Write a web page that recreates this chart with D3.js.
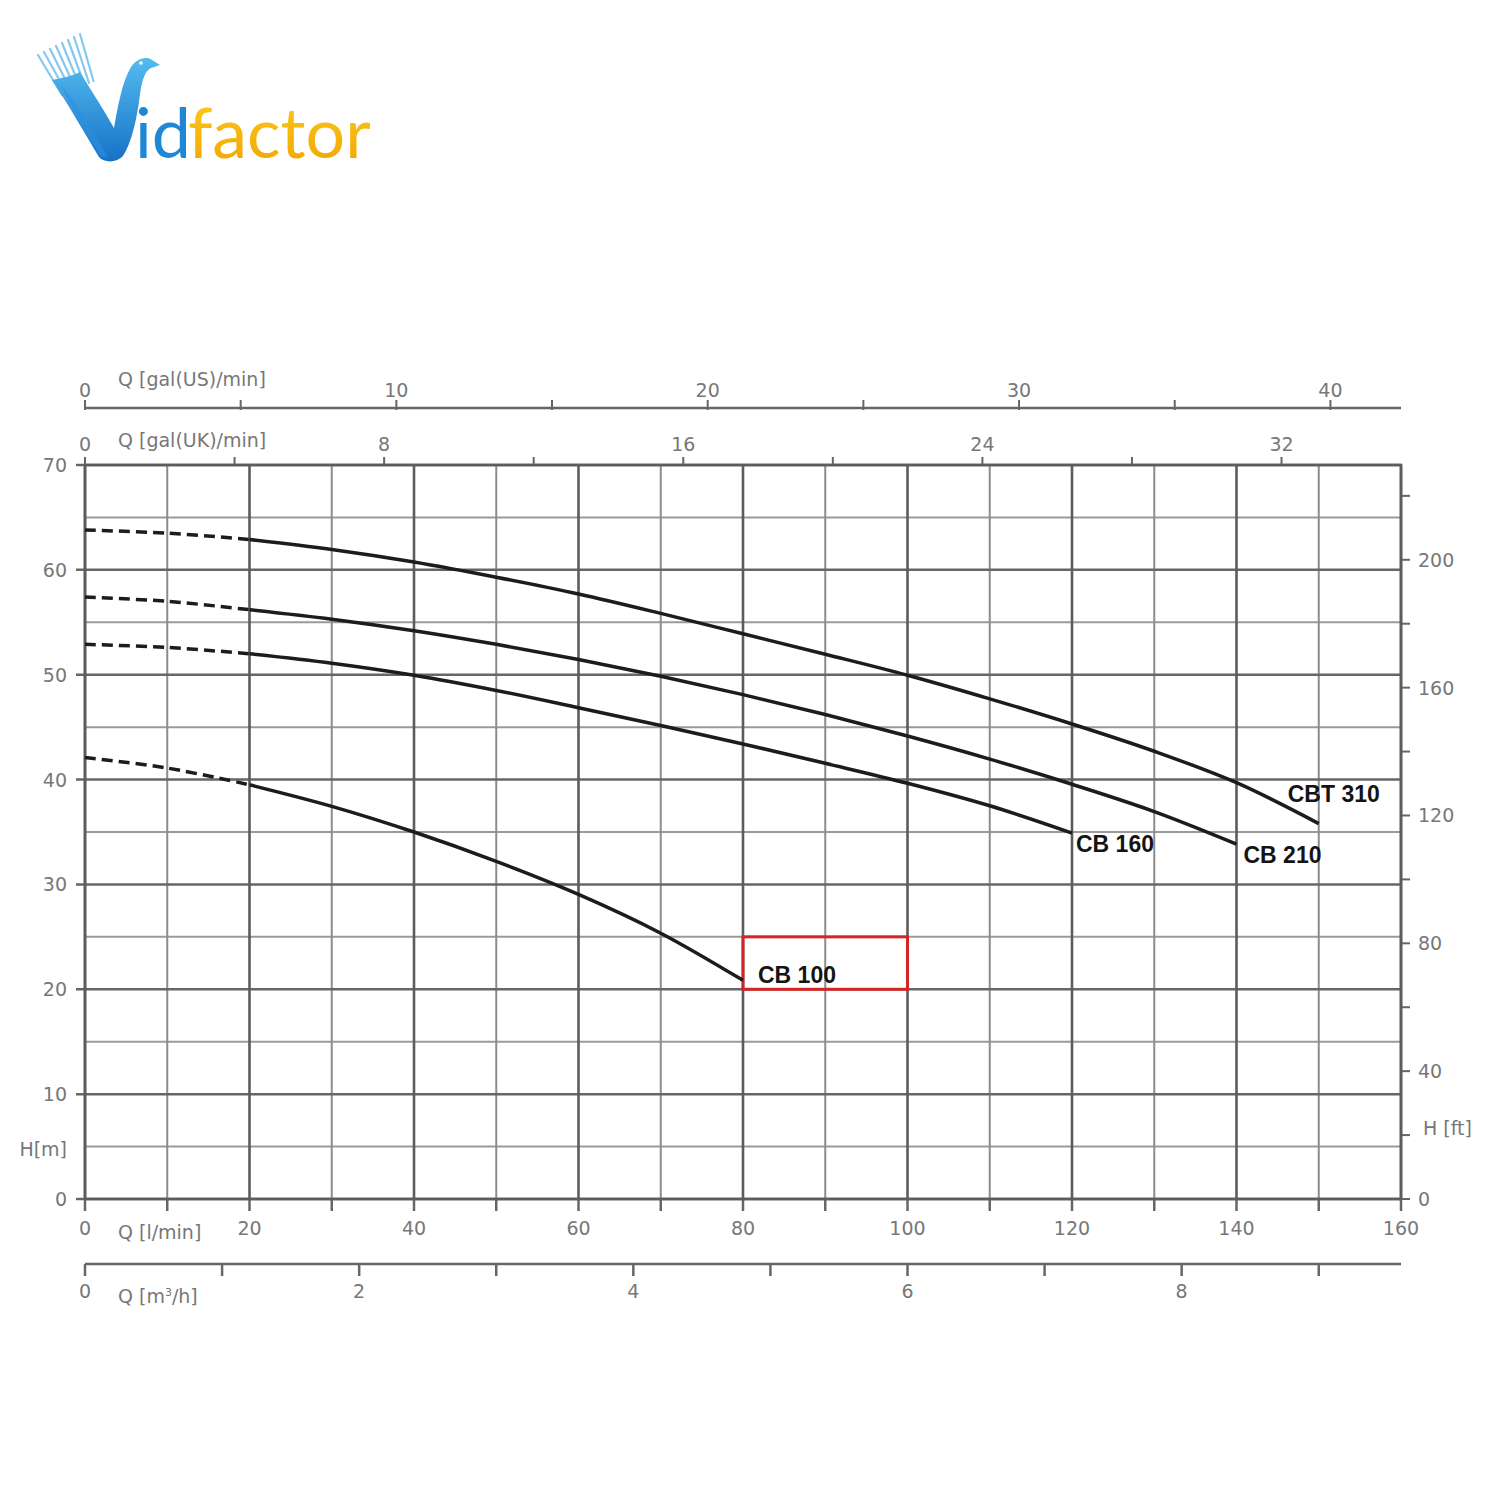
<!DOCTYPE html>
<html>
<head>
<meta charset="utf-8">
<script src="https://cdn.jsdelivr.net/npm/d3@7"></script>
<style>
  html, body { margin: 0; padding: 0; background: #fff; }
  svg { display: block; }
</style>
</head>
<body>
<svg id="chart" width="1500" height="1500"></svg>
<script>
// ---------------- DATA ----------------
const flowLmin = [0, 10, 20, 30, 40, 50, 60, 70, 80, 90, 100, 110, 120, 130, 140, 150];
const seriesNames = ["CBT 310", "CB 210", "CB 160", "CB 100"];
const headCBT310 = [63.8, 63.5, 62.9, 61.95, 60.75, 59.3, 57.7, 55.85, 53.9, 51.95, 49.95, 47.7, 45.3, 42.7, 39.7, 35.8];
const headCB210  = [57.4, 57.0, 56.2, 55.3, 54.2, 52.9, 51.45, 49.85, 48.1, 46.2, 44.15, 41.95, 39.55, 36.95, 33.85];
const headCB160  = [52.9, 52.6, 52.0, 51.1, 49.95, 48.5, 46.85, 45.15, 43.4, 41.55, 39.65, 37.5, 34.9];
const headCB100  = [42.1, 41.1, 39.5, 37.45, 35.0, 32.2, 29.05, 25.35, 20.85];
const dashedUntil = 20; // l/min: curves are dashed below this flow

const lminTicks = [0, 20, 40, 60, 80, 100, 120, 140, 160];
const lminMinorTicks = [10, 30, 50, 70, 90, 110, 130, 150];
const headTicks = [0, 10, 20, 30, 40, 50, 60, 70];
const headMinorTicks = [5, 15, 25, 35, 45, 55, 65];
const usGalTicks = [0, 5, 10, 15, 20, 25, 30, 35, 40];
const usGalLabels = [0, 10, 20, 30, 40];
const ukGalTicks = [0, 4, 8, 12, 16, 20, 24, 28, 32];
const ukGalLabels = [0, 8, 16, 24, 32];
const m3hTicks = [0, 1, 2, 3, 4, 5, 6, 7, 8, 9];
const m3hLabels = [0, 2, 4, 6, 8];
const ftTicks = [0, 20, 40, 60, 80, 100, 120, 140, 160, 180, 200, 220];
const ftLabels = [0, 40, 80, 120, 160, 200];

const highlightBox = { x0: 80, x1: 100, y0: 20, y1: 25 };

// ---------------- SETUP ----------------
const svg = d3.select("#chart");
const L = 85, R = 1401, T = 465, B = 1199;
const x = d3.scaleLinear().domain([0, 160]).range([L, R]);
const y = d3.scaleLinear().domain([0, 70]).range([B, T]);
const xUS = d3.scaleLinear().domain([0, 160 / 3.78541]).range([L, R]);
const xUK = d3.scaleLinear().domain([0, 160 / 4.54609]).range([L, R]);
const xM3 = d3.scaleLinear().domain([0, 160 * 0.06]).range([L, R]);
const yFt = d3.scaleLinear().domain([0, 70 / 0.3048]).range([B, T]);

const gray = "#777";
const fontAxis = "'DejaVu Sans', sans-serif";
const fontLab = "'Liberation Sans', Arial, sans-serif";

// ---------------- LOGO ----------------
const defs = svg.append("defs");
const gb = defs.append("linearGradient").attr("id", "blueG").attr("x1", 0).attr("y1", 0).attr("x2", 0).attr("y2", 1);
gb.append("stop").attr("offset", 0).attr("stop-color", "#55bbf0");
gb.append("stop").attr("offset", 1).attr("stop-color", "#1672c6");
const gy = defs.append("linearGradient").attr("id", "yelG").attr("x1", 0).attr("y1", 0).attr("x2", 0).attr("y2", 1);
gy.append("stop").attr("offset", 0).attr("stop-color", "#ffcd1c");
gy.append("stop").attr("offset", 1).attr("stop-color", "#f0a300");

const logo = svg.append("g");
for (let i = 0; i < 8; i++) {
  logo.append("line")
    .attr("x1", 38 + i * 6).attr("y1", 55 - i * 3)
    .attr("x2", 62 + i * 4.5).attr("y2", 95 - i * 2)
    .attr("stroke", "#86c8f0").attr("stroke-width", 2.2).attr("stroke-linecap", "round");
}
logo.append("path")
  .attr("d", "M52,80 C62,78 72,76 80,72 C92,92 104,110 114,128 C118,106 122,82 131,67 C137,58 147,56 152,60 L160,65 L151,68 C145,71 142,80 140,94 C137,120 131,144 123,156 C117,163 104,163 99,157 C84,132 68,104 52,80 Z")
  .attr("fill", "url(#blueG)");
logo.append("path")
  .attr("d", "M60,84 C74,100 92,128 108,157 L101,157 C86,132 72,106 60,84 Z")
  .attr("fill", "#2a8fe0").attr("opacity", 0.6);
logo.append("circle").attr("cx", 141).attr("cy", 63).attr("r", 1.8).attr("fill", "#fff");
logo.append("text").attr("x", 135).attr("y", 158)
  .attr("font-family", "Lato, 'Open Sans', sans-serif").attr("font-size", 70).attr("font-weight", 400)
  .attr("fill", "#1e88d6").text("id");
logo.append("text").attr("x", 188).attr("y", 158)
  .attr("font-family", "Lato, 'Open Sans', sans-serif").attr("font-size", 70).attr("font-weight", 400)
  .attr("fill", "url(#yelG)").text("factor");

// ---------------- GRID ----------------
const grid = svg.append("g");
grid.selectAll(".hmin").data(headMinorTicks).join("line")
  .attr("x1", L).attr("x2", R).attr("y1", d => y(d)).attr("y2", d => y(d))
  .attr("stroke", "#9a9a9a").attr("stroke-width", 2);
grid.selectAll(".vmin").data(lminMinorTicks).join("line")
  .attr("x1", d => x(d)).attr("x2", d => x(d)).attr("y1", T).attr("y2", B)
  .attr("stroke", "#8c8c8c").attr("stroke-width", 2);
grid.selectAll(".hmaj").data(headTicks).join("line")
  .attr("x1", L - 9).attr("x2", R).attr("y1", d => y(d)).attr("y2", d => y(d))
  .attr("stroke", "#666").attr("stroke-width", 2.5);
grid.selectAll(".vmaj").data(lminTicks).join("line")
  .attr("x1", d => x(d)).attr("x2", d => x(d)).attr("y1", T).attr("y2", B)
  .attr("stroke", "#5c5c5c").attr("stroke-width", 2.6);

// bottom ticks l/min
grid.selectAll(".bt").data(lminTicks.concat(lminMinorTicks)).join("line")
  .attr("x1", d => x(d)).attr("x2", d => x(d)).attr("y1", B).attr("y2", B + 12)
  .attr("stroke", "#666").attr("stroke-width", 2.5);

// ---------------- AXES LABELS ----------------
const txt = (g, xx, yy, s, anchor = "middle") =>
  g.append("text").attr("x", xx).attr("y", yy).attr("text-anchor", anchor)
    .attr("font-family", fontAxis).attr("font-size", 19).attr("fill", gray).text(s);

const ax = svg.append("g");
// left H[m]
headTicks.forEach(d => txt(ax, 67, y(d) + 7, d, "end"));
txt(ax, 67, y(5) + 9, "H[m]", "end");
// bottom l/min
lminTicks.forEach(d => txt(ax, x(d), 1235, d));
txt(ax, 118, 1239, "Q [l/min]", "start");

// m3/h axis
const yM3 = 1264;
ax.append("line").attr("x1", L).attr("x2", R).attr("y1", yM3).attr("y2", yM3)
  .attr("stroke", "#666").attr("stroke-width", 2.5);
m3hTicks.forEach(d => ax.append("line").attr("x1", xM3(d)).attr("x2", xM3(d))
  .attr("y1", yM3).attr("y2", yM3 + 12).attr("stroke", "#666").attr("stroke-width", 2.5));
m3hLabels.forEach(d => txt(ax, xM3(d), 1298, d));
ax.append("text").attr("x", 118).attr("y", 1303).attr("font-family", fontAxis)
  .attr("font-size", 19).attr("fill", gray)
  .html("Q [m<tspan dy='-7' font-size='11'>3</tspan><tspan dy='7'>/h]</tspan>");

// UK gal axis (on top frame)
ukGalTicks.forEach(d => ax.append("line").attr("x1", xUK(d)).attr("x2", xUK(d))
  .attr("y1", T).attr("y2", T - 8).attr("stroke", "#666").attr("stroke-width", 2));
ukGalLabels.forEach(d => txt(ax, xUK(d), 451, d));
txt(ax, 118, 447, "Q [gal(UK)/min]", "start");

// US gal axis
const yUS = 408;
ax.append("line").attr("x1", L).attr("x2", R).attr("y1", yUS).attr("y2", yUS)
  .attr("stroke", "#666").attr("stroke-width", 2.5);
usGalTicks.forEach(d => ax.append("line").attr("x1", xUS(d)).attr("x2", xUS(d))
  .attr("y1", yUS + 2).attr("y2", yUS - 8).attr("stroke", "#666").attr("stroke-width", 2));
usGalLabels.forEach(d => txt(ax, xUS(d), 397, d));
txt(ax, 118, 386, "Q [gal(US)/min]", "start");

// right ft axis
ftTicks.forEach(d => ax.append("line").attr("x1", R).attr("x2", R + 9)
  .attr("y1", yFt(d)).attr("y2", yFt(d)).attr("stroke", "#666").attr("stroke-width", 2));
ftLabels.forEach(d => txt(ax, 1418, yFt(d) + 7, d, "start"));
txt(ax, 1423, 1135, "H [ft]", "start");

// frame
svg.append("rect").attr("x", L).attr("y", T).attr("width", R - L).attr("height", B - T)
  .attr("fill", "none").attr("stroke", "#5c5c5c").attr("stroke-width", 2.6);

// ---------------- HIGHLIGHT BOX ----------------
svg.append("rect")
  .attr("x", x(highlightBox.x0)).attr("y", y(highlightBox.y1))
  .attr("width", x(highlightBox.x1) - x(highlightBox.x0))
  .attr("height", y(highlightBox.y0) - y(highlightBox.y1))
  .attr("fill", "none").attr("stroke", "#d42424").attr("stroke-width", 3);

// ---------------- CURVES ----------------
const allHeads = [headCBT310, headCB210, headCB160, headCB100];
const line = d3.line().x(d => x(d[0])).y(d => y(d[1])).curve(d3.curveCatmullRom.alpha(0.5));
const cg = svg.append("g");
allHeads.forEach(h => {
  const pts = h.map((v, i) => [flowLmin[i], v]);
  const dashed = pts.filter(p => p[0] <= dashedUntil);
  const solid = pts.filter(p => p[0] >= dashedUntil);
  cg.append("path").attr("d", line(dashed)).attr("fill", "none")
    .attr("stroke", "#1c1c1c").attr("stroke-width", 3.5).attr("stroke-dasharray", "11,6");
  cg.append("path").attr("d", line(solid)).attr("fill", "none")
    .attr("stroke", "#1c1c1c").attr("stroke-width", 3.5);
});

// curve labels (anchored at each curve's last point)
const labelOffsets = [[-31, -22], [7, 19], [4, 19], [15, 3]];
allHeads.forEach((h, i) => {
  const lastX = flowLmin[h.length - 1];
  const lastY = h[h.length - 1];
  svg.append("text")
    .attr("x", x(lastX) + labelOffsets[i][0])
    .attr("y", y(lastY) + labelOffsets[i][1])
    .attr("font-family", fontLab).attr("font-weight", "bold").attr("font-size", 23)
    .attr("fill", "#141414").text(seriesNames[i]);
});
</script>
</body>
</html>
